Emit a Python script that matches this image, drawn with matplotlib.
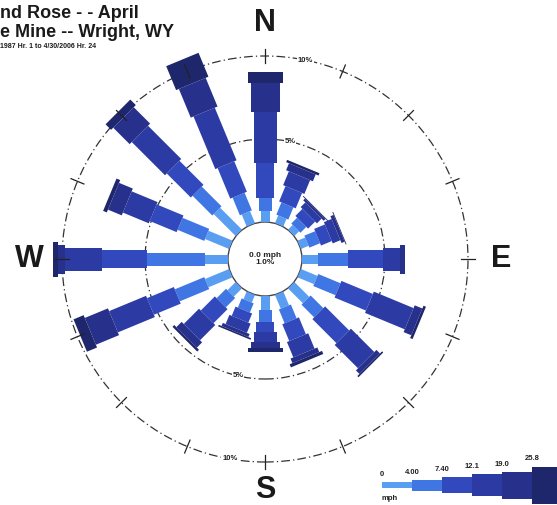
import matplotlib.pyplot as plt
import numpy as np
from matplotlib.patches import Circle
from matplotlib.transforms import Affine2D

# 16 compass directions, clockwise from north (degrees)
directions = np.arange(16) * 22.5
cardinals = {"N": 0, "E": 90, "S": 180, "W": 270}

# speed classes (mph), lower bounds as printed in the legend
speed_labels = ["0", "4.00", "7.40", "12.1", "19.0", "25.8"]
calm_label = "0.0 mph\n1.0%"

# frequency (%) per speed class, order N, NNE, NE, ... NNW
freq_0_4 = [0.66, 0.50, 0.40, 0.50, 0.96, 1.08, 1.27, 0.90,
            0.84, 0.50, 0.70, 1.57, 1.39, 1.57, 1.87, 0.78]
freq_4_7 = [0.79, 0.80, 0.50, 0.70, 1.81, 1.45, 1.08, 0.90,
            0.73, 0.60, 0.80, 1.92, 3.49, 1.74, 1.68, 1.15]
freq_7_12 = [2.10, 1.00, 0.60, 0.70, 2.11, 2.05, 2.05, 1.10,
             0.60, 0.60, 1.20, 1.75, 2.71, 1.75, 2.05, 1.99]
freq_12_19 = [3.08, 0.90, 0.40, 0.50, 1.00, 2.59, 1.99, 1.00,
              0.60, 0.60, 1.30, 2.41, 2.23, 1.69, 2.83, 3.43]
freq_19_26 = [1.74, 0.45, 0.15, 0.20, 0.30, 0.50, 0.30, 0.30,
              0.36, 0.20, 0.45, 1.51, 0.42, 0.90, 1.40, 1.87]
freq_26_up = [0.67, 0.15, 0.05, 0.05, 0.00, 0.16, 0.10, 0.20,
              0.24, 0.10, 0.15, 0.66, 0.30, 0.24, 0.47, 1.56]

# style
PX = 16.6                  # pixels per percent
CALM_R = 37 / PX           # radius of the calm circle
BAR_W = np.array([9, 13, 18, 23, 29, 35]) / PX
LEG_H = np.array([6, 11, 16, 22, 27, 37]) / PX
COLORS = ["#5a9ef2", "#3f76e4", "#3249bd", "#2c3ba4", "#27318c", "#1e266c"]
RING = "#333333"
FONT = "Liberation Sans"


def main():
    freqs = np.array([freq_0_4, freq_4_7, freq_7_12, freq_12_19, freq_19_26, freq_26_up])

    fig = plt.figure(figsize=(5.57, 5.05), dpi=100)
    ax = fig.add_axes([0, 0, 1, 1])
    ax.set_xlim(-265 / PX, (557 - 265) / PX)
    ax.set_ylim(-(505 - 259) / PX, 259 / PX)
    ax.axis("off")

    # rings
    ax.add_patch(Circle((0, 0), CALM_R, fill=False, lw=1.0, ec="#444444", zorder=1))
    for pct in (5, 10):
        ax.add_patch(Circle((0, 0), CALM_R + pct, fill=False, lw=0.9, ec=RING,
                            ls=(0, (7, 2.5, 1, 2.5)), zorder=1))

    # stacked bars, one rotated bar chart per direction
    for d, theta in enumerate(directions):
        seg = freqs[:, d]
        bottoms = CALM_R + np.concatenate([[0], np.cumsum(seg)[:-1]])
        rot = Affine2D().rotate_deg(-theta) + ax.transData
        ax.bar(np.zeros(len(seg)), seg, width=BAR_W, bottom=bottoms, color=COLORS,
               lw=0, transform=rot, zorder=2)
        # tick across the 10% ring
        r10 = CALM_R + 10
        ax.plot([0, 0], [r10 - 0.42, r10 + 0.42], color="#222222", lw=0.9,
                transform=rot, zorder=3)

    # ring labels
    for pct, ang in [(10, 11.5), (5, 12), (5, 193), (10, 190)]:
        t = np.deg2rad(ang)
        r = CALM_R + pct
        ax.text(r * np.sin(t), r * np.cos(t), f"{pct}%", fontsize=5.5, fontweight="bold",
                family=FONT, ha="center", va="center", color="#222222", zorder=4,
                bbox=dict(fc="white", ec="none", pad=0.6))

    ax.text(0, 0, calm_label, fontsize=6, fontweight="bold", family=FONT,
            ha="center", va="center", linespacing=1.0, color="#222222")

    for name, ang in cardinals.items():
        t = np.deg2rad(ang)
        r = 13.9 if name == "S" else 14.2
        ax.text(r * np.sin(t), r * np.cos(t), name, fontsize=22, fontweight="bold",
                family=FONT, ha="center", va="center", color="#1a1a1a")

    # legend
    seg_len = 30 / PX
    leg_left = (382 - 265) / PX + np.arange(len(speed_labels)) * seg_len
    leg_y = (259 - 485) / PX
    ax.barh(np.full(len(speed_labels), leg_y), np.full(len(speed_labels), seg_len),
            height=LEG_H, left=leg_left, color=COLORS, lw=0, align="center")
    for x, h, lab in zip(leg_left, LEG_H, speed_labels):
        ax.text(x, leg_y + h / 2 + 4 / PX, lab, fontsize=5.5, fontweight="bold",
                family=FONT, ha="center", va="bottom", color="#222222")
    ax.text(leg_left[0], leg_y - 10 / PX, "mph", fontsize=5.5, fontweight="bold",
            family=FONT, ha="left", va="top", color="#222222")

    # title block (cut off on the left in the original)
    fig.text(0, 1 - 18 / 505, "nd Rose - - April", fontsize=13, fontweight="bold",
             family=FONT, ha="left", va="baseline", color="#1a1a1a")
    fig.text(0, 1 - 37 / 505, "e Mine -- Wright, WY", fontsize=13, fontweight="bold",
             family=FONT, ha="left", va="baseline", color="#1a1a1a")
    fig.text(0, 1 - 48 / 505, "1987 Hr. 1 to 4/30/2006 Hr. 24", fontsize=5, fontweight="bold",
             family=FONT, ha="left", va="baseline", color="#1a1a1a")

    fig.savefig("out.png", dpi=100, facecolor="white")


if __name__ == "__main__":
    main()
